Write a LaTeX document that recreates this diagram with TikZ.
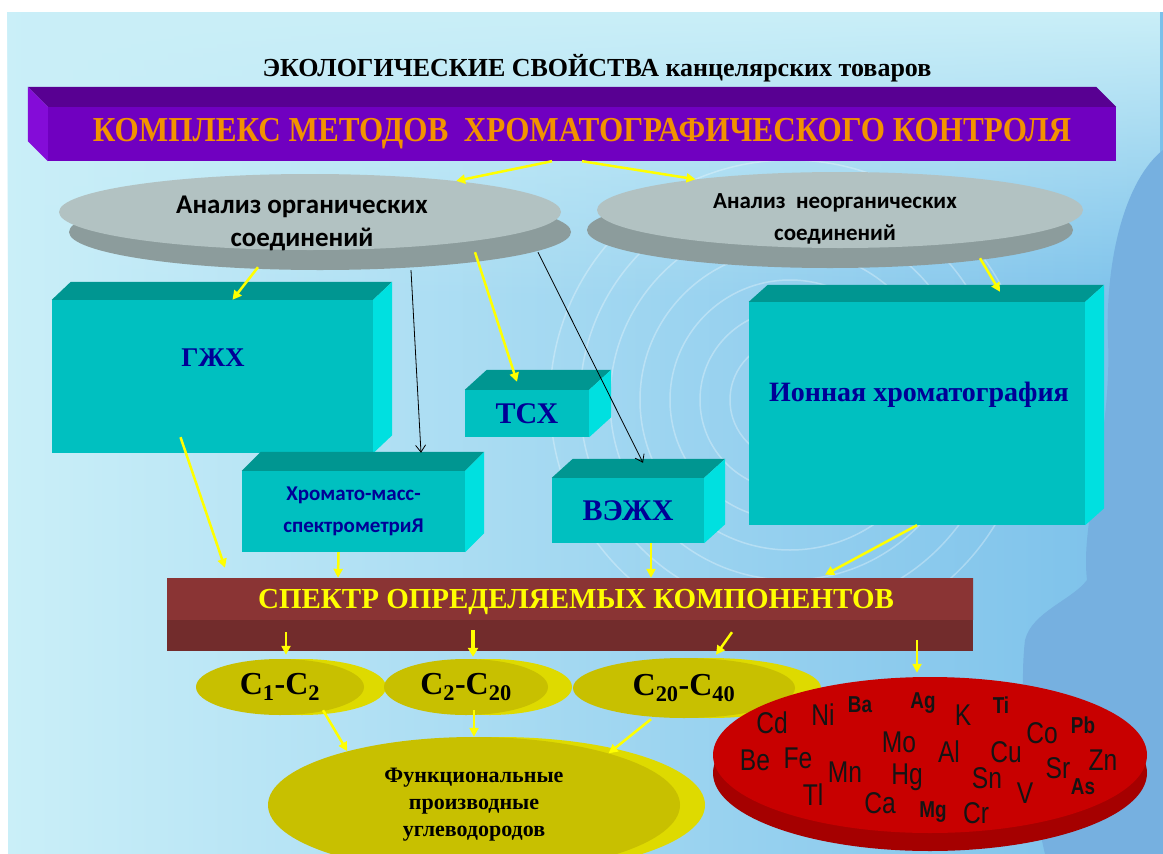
\documentclass[tikz,border=0pt]{standalone}
\usepackage{fontspec}
\setmainfont{Liberation Serif}
\newfontfamily\calibri{Carlito}
\newfontfamily\condserif{Liberation Serif}[FakeStretch=0.89]
\newfontfamily\elemfont{Liberation Sans}[FakeStretch=0.82]
\usetikzlibrary{shapes.geometric, arrows.meta, positioning, shadows, fadings}

\definecolor{bglight}{RGB}{202,239,248}
\definecolor{bgmid}{RGB}{138,214,245}
\definecolor{bgright}{RGB}{122,192,234}
\definecolor{bgdark}{RGB}{118,176,224}
\definecolor{purplefront}{RGB}{112,0,192}
\definecolor{purpletop}{RGB}{88,0,146}
\definecolor{purpleside}{RGB}{132,12,216}
\definecolor{orangetext}{RGB}{242,146,0}
\definecolor{disctop}{RGB}{178,194,194}
\definecolor{discside}{RGB}{140,156,156}
\definecolor{cubefront}{RGB}{0,192,192}
\definecolor{cubetopc}{RGB}{0,150,145}
\definecolor{cubesidec}{RGB}{0,224,224}
\definecolor{navytext}{RGB}{0,0,150}
\definecolor{bardark}{RGB}{114,44,44}
\definecolor{barmid}{RGB}{194,82,82}
\definecolor{bartop}{RGB}{138,52,52}
\definecolor{olive}{RGB}{200,192,0}
\definecolor{oliverim}{RGB}{222,218,0}
\definecolor{redtop}{RGB}{200,0,0}
\definecolor{redside}{RGB}{165,0,0}
\definecolor{arrowyellow}{RGB}{255,255,0}

\tikzstyle{titletext} = [font=\rmfamily\bfseries\fontsize{26}{26}\selectfont, text=black]
\tikzstyle{purplebar} = [rectangle, fill=purplefront, text=orangetext, font=\condserif\bfseries\fontsize{35}{35}\selectfont]
\tikzstyle{disc} = [ellipse, fill=disctop]
\tikzstyle{disctext} = [align=center, text=black]
\tikzstyle{cube} = [rectangle, fill=cubefront, text=navytext, align=center, font=\rmfamily\bfseries\fontsize{30}{30}\selectfont]
\tikzstyle{cubetext} = [text=navytext, font=\rmfamily\bfseries]
\tikzstyle{specbar} = [rectangle, fill=bardark, path picture={\shade[top color=bartop, middle color=barmid, bottom color=bartop] (path picture bounding box.north west) rectangle ([yshift=-41pt]path picture bounding box.north east);}]
\tikzstyle{spectext} = [text=arrowyellow, font=\rmfamily\bfseries\fontsize{29}{29}\selectfont]
\tikzstyle{olivedisc} = [ellipse, fill=olive, text=black, font=\rmfamily\bfseries\fontsize{32}{32}\selectfont]
\tikzstyle{reddisc} = [ellipse, fill=redtop, general shadow={fill=redside, shadow yshift=-18pt}]
\tikzstyle{element} = [text={rgb,255:red,20;green,20;blue,20}, font=\elemfont\fontsize{30}{30}\selectfont, inner sep=0pt]
\tikzstyle{elsmall} = [element, font=\elemfont\bfseries\fontsize{23}{23}\selectfont]
\tikzstyle{ring} = [draw=white, opacity=0.3, line width=1.5pt]
\tikzstyle{yarrow} = [line width=2.5pt, draw=arrowyellow, ->, >={Triangle[length=9pt,width=9pt]}]
\tikzstyle{yarrowthick} = [line width=4pt, draw=arrowyellow, ->, >={Triangle[length=9pt,width=10pt]}]
\tikzstyle{barrow} = [line width=0.8pt, draw=black, ->, >={Straight Barb[length=7pt,width=10pt]}]

% top and right faces of a box node
\newcommand{\cubefaces}[3]{%
  \fill[cubetopc] (#1.north west) -- ++(#2,-#3) -- ([shift={(#2,-#3)}]#1.north east) -- (#1.north east) -- cycle;
  \fill[cubesidec] (#1.north east) -- ++(#2,-#3) -- ([shift={(#2,-#3)}]#1.south east) -- (#1.south east) -- cycle;}

\begin{document}
\begin{tikzpicture}[x=1pt, y=-1pt]
    \useasboundingbox (0,0) rectangle (1163,854);

    % Background
    \shade[left color=bglight, middle color=bgmid, right color=bgright] (8,12) rectangle (1163,854);
    \fill[bglight, path fading=south] (8,12) rectangle (1163,300);
    \fill[bgdark] (1163,150) .. controls (1125,180) and (1105,260) .. (1108,340) .. controls (1112,440) and (1080,520) .. (1087,580) .. controls (1072,600) and (1032,612) .. (1025,640) .. controls (1018,700) and (1030,790) .. (1045,854) -- (1163,854) -- cycle;
    \begin{scope}
        \clip (8,12) rectangle (1163,854);
        \foreach \r in {60,90,...,240}
            \draw [ring] (790,400) circle (\r pt);
    \end{scope}

    % Title and method bar
    \node (title) [titletext] at (597,68) {ЭКОЛОГИЧЕСКИЕ СВОЙСТВА канцелярских товаров};
    \node (kompleks) [purplebar, minimum width=1068pt, minimum height=54pt] at (582,134) {КОМПЛЕКС МЕТОДОВ\ \ ХРОМАТОГРАФИЧЕСКОГО КОНТРОЛЯ};
    \fill[purpletop] (kompleks.north west) -- ++(-20,-20) -- ([shift={(-20,-20)}]kompleks.north east) -- (kompleks.north east) -- cycle;
    \fill[purpleside] (kompleks.north west) -- ++(-20,-20) -- ([shift={(-20,-20)}]kompleks.south west) -- (kompleks.south west) -- cycle;

    % Analysis discs
    \node (orgell) [disc, minimum width=502pt, minimum height=76pt, general shadow={fill=discside, shadow xshift=10pt, shadow yshift=-20pt}] at (310,212) {};
    \node (orgtext) [disctext, font=\calibri\bfseries\fontsize{27}{33}\selectfont] at (302,223) {Анализ органических\\соединений};
    \node (neorgell) [disc, minimum width=486pt, minimum height=76pt, general shadow={fill=discside, shadow xshift=-10pt, shadow yshift=-20pt}] at (840,210) {};
    \node (neorgtext) [disctext, font=\calibri\bfseries\fontsize{23}{32}\selectfont] at (835,219) {Анализ\ \ неорганических\\соединений};

    % Methods
    \node (gzhx) [cube, minimum width=321pt, minimum height=153pt] at (212.5,376.5) {};
    \node (gzhxtext) [cubetext, font=\rmfamily\bfseries\fontsize{27}{27}\selectfont] at (213,358) {ГЖХ};
    \cubefaces{gzhx}{19}{18}
    \node (tsx) [cube, minimum width=124pt, minimum height=47pt] at (527,413.5) {ТСХ};
    \cubefaces{tsx}{22}{20}
    \node (khromato) [cube, minimum width=223pt, minimum height=81pt, font=\calibri\bfseries\fontsize{21}{32}\selectfont] at (353.5,511.5) {Хромато-масс-\\спектрометриЯ};
    \cubefaces{khromato}{19}{19}
    \node (vezhx) [cube, minimum width=152pt, minimum height=65pt] at (628,510.5) {ВЭЖХ};
    \cubefaces{vezhx}{21}{19}
    \node (ionnaya) [cube, minimum width=336pt, minimum height=223pt] at (917,413.5) {};
    \node (ionnayatext) [cubetext, font=\rmfamily\bfseries\fontsize{28}{28}\selectfont] at (919,395) {Ионная хроматография};
    \cubefaces{ionnaya}{19}{17}

    % Spectrum
    \node (spektr) [specbar, minimum width=806pt, minimum height=73pt] at (570,614.5) {};
    \node (spektrtext) [spectext] at (576,602) {СПЕКТР ОПРЕДЕЛЯЕМЫХ КОМПОНЕНТОВ};

    % Components
    \node (c12) [olivedisc, minimum width=168pt, minimum height=56pt, general shadow={fill=oliverim, shadow xshift=22pt}] at (280,687) {C\textsubscript{1}-C\textsubscript{2}};
    \node (c220) [olivedisc, minimum width=164pt, minimum height=56pt, general shadow={fill=oliverim, shadow xshift=24pt}] at (466,687) {C\textsubscript{2}-C\textsubscript{20}};
    \node (c2040) [olivedisc, minimum width=222pt, minimum height=60pt, general shadow={fill=oliverim, shadow xshift=26pt}] at (684,688) {C\textsubscript{20}-C\textsubscript{40}};
    \node (funk) [olivedisc, align=center, minimum width=412pt, minimum height=136pt, general shadow={fill=oliverim, shadow xshift=25pt}, font=\rmfamily\bfseries\fontsize{22}{27}\selectfont] at (474,805) {Функциональные\\производные\\углеводородов};
    \node (metals) [reddisc, minimum width=434pt, minimum height=156pt] at (930,755) {};

    % Elements
    \node (Cd) [element] at (772,723) {Cd};
    \node (Ni) [element] at (823,715) {Ni};
    \node (Ba) [elsmall] at (860,705) {Ba};
    \node (Ag) [elsmall] at (923,703) {Ag};
    \node (K) [element] at (963,715) {K};
    \node (Ti) [elsmall] at (1001,705) {Ti};
    \node (Co) [element] at (1042,733) {Co};
    \node (Pb) [elsmall] at (1083,725) {Pb};
    \node (Be) [element] at (755,760) {Be};
    \node (Fe) [element] at (798,758) {Fe};
    \node (Mn) [element] at (845,772) {Mn};
    \node (Mo) [element] at (899,742) {Mo};
    \node (Al) [element] at (949,752) {Al};
    \node (Cu) [element] at (1006,752) {Cu};
    \node (Zn) [element] at (1103,760) {Zn};
    \node (Sr) [element] at (1058,768) {Sr};
    \node (As) [elsmall] at (1083,787) {As};
    \node (Hg) [element] at (907,777) {Hg};
    \node (Sn) [element] at (987,778) {Sn};
    \node (V) [element] at (1025,793) {V};
    \node (Tl) [element] at (813,795) {Tl};
    \node (Ca) [element] at (880,803) {Ca};
    \node (Mg) [elsmall] at (933,812) {Mg};
    \node (Cr) [element] at (976,813) {Cr};

    % ==== Arrows
    % From the bar to the analyses
    \draw [yarrow] ([xshift=-30pt]kompleks.south) -- (orgell.12);
    \draw [yarrow] (kompleks.south) -- (neorgell.168);

    % To the methods
    \draw [yarrow] ([shift={(-52,17)}]orgell.south) -- ([shift={(20,0)}]gzhx.north);
    \draw [yarrow] ([shift={(165,2)}]orgell.south) -- ([shift={(-10,-8)}]tsx.north);
    \draw [yarrow] ([shift={(140,10)}]neorgell.south) -- ([shift={(83,-10)}]ionnaya.north);
    \draw [barrow] ([shift={(101,20)}]orgell.south) -- ([shift={(67.5,-18)}]khromato.north);
    \draw [barrow] ([shift={(228,2)}]orgell.south) -- ([shift={(15,-15)}]vezhx.north);

    % To the spectrum
    \draw [yarrow] ([shift={(-32,-16)}]gzhx.south) -- ([shift={(-345,-10)}]spektr.north);
    \draw [yarrow] ([shift={(-15,0)}]khromato.south) -- ([shift={(-232,0)}]spektr.north);
    \draw [yarrow] ([shift={(23,0)}]vezhx.south) -- ([shift={(81,0)}]spektr.north);
    \draw [yarrow] (ionnaya.south) -- ([shift={(255,-3)}]spektr.north);

    % To the components
    \draw [yarrow] ([shift={(-284,-19)}]spektr.south) -- ([shift={(6,-4)}]c12.north);
    \draw [yarrowthick] ([shift={(-97,-21)}]spektr.south) -- ([shift={(7,-2)}]c220.north);
    \draw [yarrow] ([shift={(162,-19)}]spektr.south) -- ([shift={(32,-3)}]c2040.north);
    \draw [yarrow] ([shift={(347,-11)}]spektr.south) -- ([shift={(-13,-4)}]metals.north);

    % To the derivatives
    \draw [yarrow] ([shift={(43,-5)}]c12.south) -- (funk.157);
    \draw [yarrow] ([shift={(8,-5)}]c220.south) -- (funk.north);
    \draw [yarrow] ([shift={(-33,1)}]c2040.south) -- (funk.21);

\end{tikzpicture}
\end{document}
